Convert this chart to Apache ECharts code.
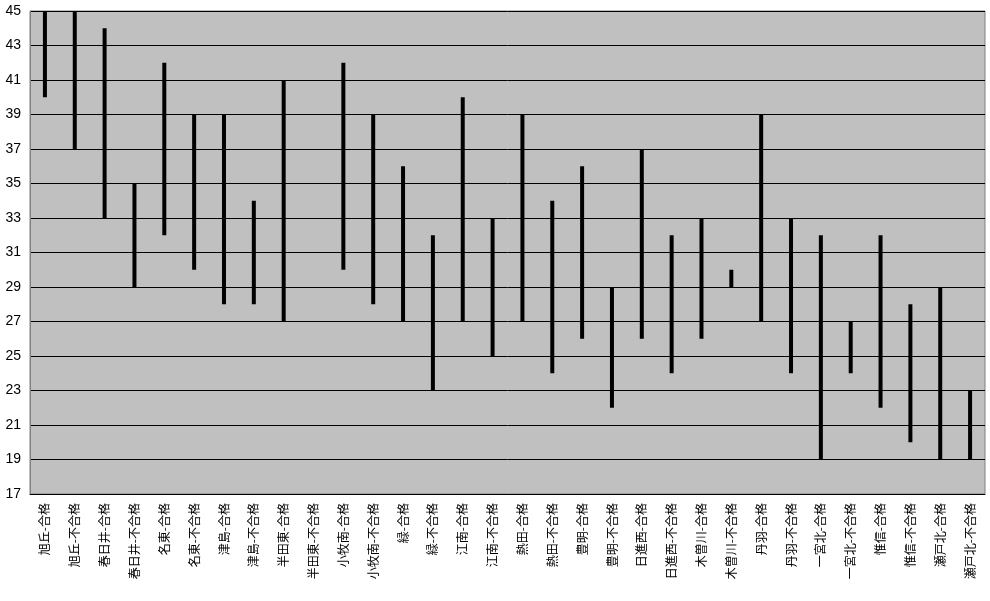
<!DOCTYPE html>
<html><head><meta charset="utf-8">
<script src="https://cdn.jsdelivr.net/npm/echarts@6/dist/echarts.min.js"></script>
<style>html,body{margin:0;padding:0;background:#fff}#c{width:990px;height:601px}</style>
</head><body><div id="c"></div>
<script>
const categories = ['旭丘-合格','旭丘-不合格','春日井-合格','春日井-不合格','名東-合格','名東-不合格','津島-合格','津島-不合格','半田東-合格','半田東-不合格','小牧南-合格','小牧南-不合格','緑-合格','緑-不合格','江南-合格','江南-不合格','熱田-合格','熱田-不合格','豊明-合格','豊明-不合格','日進西-合格','日進西-不合格','木曽川-合格','木曽川-不合格','丹羽-合格','丹羽-不合格','一宮北-合格','一宮北-不合格','惟信-合格','惟信-不合格','瀬戸北-合格','瀬戸北-不合格'];
const lowValues  = [40,37,33,29,32,30,28,28,27,null,30,28,27,23,27,25,27,24,26,22,26,24,26,29,27,24,19,24,22,20,19,19];
const highValues = [45,45,44,35,42,39,39,34,41,null,42,39,36,32,40,33,39,34,36,29,37,32,33,30,39,33,32,27,32,28,29,23];
const yTicks = [17,19,21,23,25,27,29,31,33,35,37,39,41,43,45];

const data = categories.map((c,i)=>[i, lowValues[i], highValues[i]]).filter(d=>d[1]!=null);
const chart = echarts.init(document.getElementById('c'));
chart.setOption({
  animation:false,
  backgroundColor:'#ffffff',
  grid:{left:30,right:5,top:11,bottom:107,show:true,backgroundColor:'#c0c0c0',borderColor:'#808080',borderWidth:1},
  xAxis:{type:'category',data:categories,boundaryGap:true,
    axisLine:{lineStyle:{color:'#000',width:1}},
    axisTick:{inside:true,length:5,lineStyle:{color:'#000'}},
    axisLabel:{rotate:90,interval:0,margin:9,color:'#000',fontSize:12,fontFamily:'Noto Sans CJK JP'}},
  yAxis:{type:'value',min:yTicks[0],max:yTicks[yTicks.length-1],interval:2,
    axisLine:{show:true,lineStyle:{color:'#808080'}},
    axisTick:{show:false},
    splitLine:{lineStyle:{color:'#000',width:1}},
    axisLabel:{color:'#000',fontSize:14,margin:9,fontFamily:'Liberation Sans'}},
  series:[{type:'custom',data:data,encode:{x:0,y:[1,2]},
    renderItem:function(params,api){
      const p1=api.coord([api.value(0),api.value(1)]);
      const p2=api.coord([api.value(0),api.value(2)]);
      return {type:'line',shape:{x1:p1[0],y1:p1[1],x2:p2[0],y2:p2[1]},style:{stroke:'#000',lineWidth:4}};
    }}]
});
</script></body></html>
